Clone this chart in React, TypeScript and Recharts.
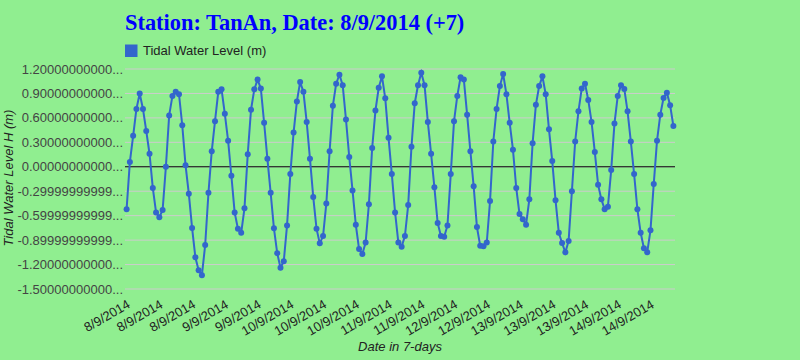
import React from "react";
import { LineChart, Line, XAxis, YAxis, CartesianGrid, ReferenceLine } from "recharts";

const titleText = "Station: TanAn, Date: 8/9/2014 (+7)";
const seriesName = "Tidal Water Level (m)";
const xTitle = "Date in 7-days";
const yTitle = "Tidal Water Level H (m)";

const days = ["8/9/2014", "9/9/2014", "10/9/2014", "11/9/2014", "12/9/2014", "13/9/2014", "14/9/2014"];
const hoursPerDay = 24;

const levels = [
  -0.52, 0.06, 0.38, 0.71, 0.9, 0.71, 0.44, 0.16, -0.26, -0.56, -0.62, -0.53, 0.0, 0.63, 0.87, 0.92, 0.89, 0.51, 0.02, -0.33, -0.75, -1.11, -1.27, -1.33,
  -0.96, -0.32, 0.19, 0.56, 0.92, 0.95, 0.65, 0.32, -0.11, -0.56, -0.76, -0.81, -0.51, 0.155, 0.7, 0.95, 1.07, 0.96, 0.54, 0.1, -0.32, -0.755, -1.06, -1.24,
  -1.16, -0.72, -0.09, 0.42, 0.8, 1.04, 0.92, 0.55, 0.1, -0.37, -0.76, -0.94, -0.85, -0.45, 0.19, 0.75, 1.02, 1.13, 1.0, 0.58, 0.12, -0.29, -0.71, -1.01,
  -1.07, -0.93, -0.46, 0.23, 0.69, 0.97, 1.11, 0.84, 0.355, -0.09, -0.56, -0.93, -0.98, -0.85, -0.47, 0.245, 0.78, 1.0, 1.155, 1.0, 0.55, 0.16, -0.25, -0.69,
  -0.85, -0.86, -0.72, -0.09, 0.56, 0.87, 1.1, 1.07, 0.64, 0.19, -0.24, -0.74, -0.97, -0.975, -0.93, -0.42, 0.31, 0.71, 0.99, 1.14, 0.89, 0.54, 0.21, -0.26,
  -0.58, -0.645, -0.71, -0.4, 0.29, 0.76, 0.99, 1.11, 0.89, 0.46, 0.07, -0.41, -0.81, -0.935, -1.05, -0.91, -0.3, 0.31, 0.68, 0.96, 1.02, 0.82, 0.55, 0.18,
  -0.22, -0.4, -0.52, -0.49, -0.04, 0.53, 0.87, 1.0, 0.955, 0.68, 0.31, -0.09, -0.52, -0.81, -1.0, -1.05, -0.78, -0.21, 0.32, 0.64, 0.845, 0.91, 0.755, 0.5,
];

const yTicks = [1.2, 0.9, 0.6, 0.3, 0, -0.3, -0.6, -0.9, -1.2, -1.5];
const yTickLabels = [
  "1.20000000000...",
  "0.90000000000...",
  "0.60000000000...",
  "0.30000000000...",
  "0.00000000000...",
  "-0.29999999999...",
  "-0.59999999999...",
  "-0.89999999999...",
  "-1.20000000000...",
  "-1.50000000000...",
];

const categories: string[] = days.flatMap((d) => Array(hoursPerDay).fill(d));
const data = levels.map((v, i) => ({ i, date: categories[i], level: v }));

const FONT = "'Liberation Sans', Arial, sans-serif";
const BLUE = "#3366CC";

const XTick = (props: any) => {
  const { x, payload } = props;
  const label = categories[payload.value];
  const ax = x + 4.5;
  const ay = 307;
  return (
    <text x={ax} y={ay} transform={`rotate(-30, ${ax}, ${ay})`} textAnchor="end" fontFamily={FONT} fontSize={13} fill="#222222">
      {label}
    </text>
  );
};

const YTick = (props: any) => {
  const { y, payload } = props;
  const idx = yTicks.indexOf(payload.value);
  return (
    <text x={123} y={y} dy={4.6} textAnchor="end" fontFamily={FONT} fontSize={13} fill="#444444">
      {idx >= 0 ? yTickLabels[idx] : ""}
    </text>
  );
};

const XTitle = () => (
  <text x={400} y={351} textAnchor="middle" fontFamily={FONT} fontSize={13} fontStyle="italic" fill="#222222">
    {xTitle}
  </text>
);

const YTitle = () => (
  <text x={12.5} y={178} transform="rotate(-90, 12.5, 178)" textAnchor="middle" fontFamily={FONT} fontSize={13} fontStyle="italic" fill="#222222">
    {yTitle}
  </text>
);

export default function App() {
  return (
    <div style={{ position: "absolute", left: 0, top: 0, width: 800, height: 360, background: "#90EE90", overflow: "hidden" }}>
      <LineChart width={800} height={360} data={data} margin={{ top: 69, right: 125, bottom: 31, left: 0 }}>
        <CartesianGrid horizontal vertical={false} stroke="#cccccc" strokeWidth={1} />
        <XAxis
          dataKey="i"
          type="category"
          interval={9}
          tick={<XTick />}
          tickLine={false}
          axisLine={false}
          height={40}
          padding={{ left: 1.6, right: 1.6 }}
          label={<XTitle />}
        />
        <YAxis
          type="number"
          domain={[-1.5, 1.2]}
          ticks={yTicks}
          interval={0}
          width={125}
          tick={<YTick />}
          tickLine={false}
          axisLine={false}
          allowDataOverflow
          label={<YTitle />}
        />
        <ReferenceLine y={0} stroke="#000000" strokeWidth={1} />
        <Line
          type="linear"
          dataKey="level"
          name={seriesName}
          stroke={BLUE}
          strokeWidth={2}
          dot={{ r: 3, fill: BLUE, stroke: BLUE, strokeWidth: 0 }}
          activeDot={false}
          isAnimationActive={false}
        />
      </LineChart>
      <svg width={800} height={60} style={{ position: "absolute", left: 0, top: 0, pointerEvents: "none" }}>
        <text x={125} y={30} fontFamily="'Liberation Serif', 'Times New Roman', serif" fontWeight="bold" fontSize={22.4} fill="#0000FF">
          {titleText}
        </text>
        <rect x={125} y={44.5} width={12.5} height={12.5} fill={BLUE} />
        <text x={143} y={55} fontFamily={FONT} fontSize={13} fill="#222222">
          {seriesName}
        </text>
      </svg>
    </div>
  );
}
